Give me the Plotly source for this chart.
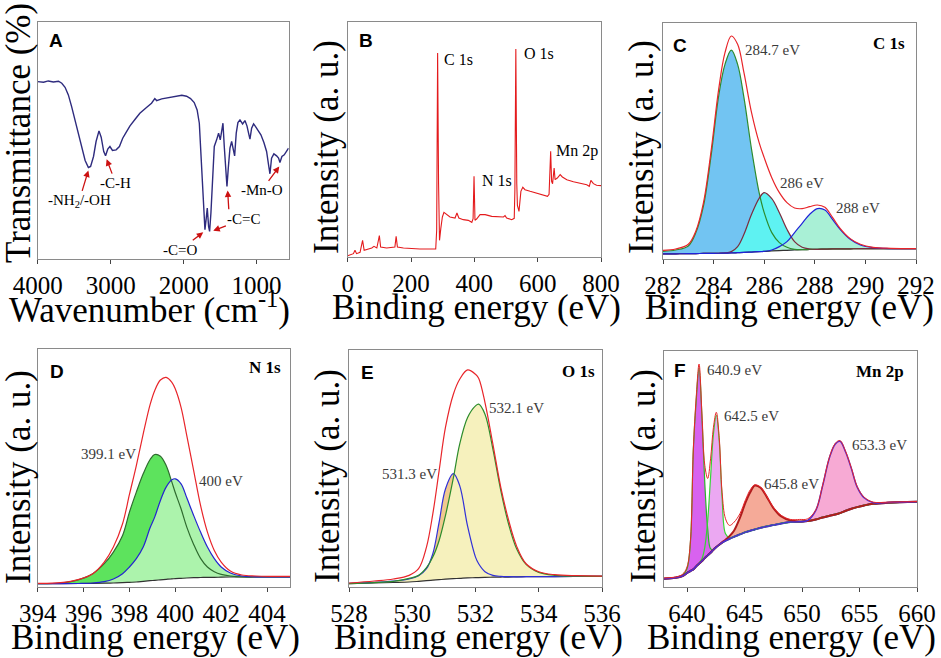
import plotly.graph_objects as go
from plotly.subplots import make_subplots


# Data

# A - FTIR
ftir_wavenumber = [4000, 3920, 3855, 3785, 3715, 3670, 3625, 3580, 3535, 3490,
                   3445, 3395, 3350, 3305, 3275, 3235, 3200, 3160, 3130, 3095,
                   3070, 3040, 3010, 2975, 2925, 2880, 2835, 2790, 2735, 2665,
                   2600, 2505, 2440, 2395, 2370, 2300, 2210, 2120, 2025, 1960,
                   1905, 1855, 1815, 1785, 1765, 1745, 1725, 1708, 1690, 1676,
                   1658, 1644, 1626, 1603, 1580, 1548, 1521, 1498, 1479, 1461,
                   1443, 1425, 1406, 1388, 1365, 1342, 1320, 1301, 1279, 1256,
                   1228, 1192, 1160, 1132, 1110, 1091, 1068, 1041, 1014, 977,
                   941, 900, 863, 836, 817, 795, 763, 726, 699, 680,
                   653, 621, 589, 562]
ftir_transmittance = [53.3, 53.1, 53.5, 53.2, 53.4, 52.8, 51.6, 49.3, 45.8, 41.8,
                      37.3, 33.0, 29.6, 27.5, 27.8, 30.8, 35.3, 38.5, 36.6, 32.3,
                      31.0, 33.0, 33.8, 32.6, 32.8, 33.8, 36.3, 38.0, 40.0, 42.0,
                      43.8, 45.6, 46.8, 48.2, 47.6, 48.1, 48.5, 48.8, 49.2, 48.9,
                      48.2, 47.0, 44.8, 40.8, 32.8, 23.8, 13.8, 8.8, 12.3, 15.3,
                      9.8, 8.3, 13.8, 25.8, 33.8, 35.8, 37.8, 35.8, 38.3, 40.8,
                      33.8, 25.8, 21.8, 27.3, 33.3, 35.3, 32.8, 31.0, 37.8, 41.0,
                      41.8, 40.6, 41.6, 40.0, 37.8, 36.0, 39.3, 40.6, 39.8, 38.3,
                      37.3, 35.0, 32.3, 28.3, 25.6, 30.3, 31.6, 31.0, 30.3, 29.0,
                      30.8, 31.3, 32.3, 33.3]

# B - XPS survey
survey_ev = [0, 7, 18, 23, 28, 39, 47, 52, 65, 76,
             83, 92, 100, 104, 123, 139, 149, 153, 157, 176,
             197, 228, 260, 278, 281, 284, 287, 290, 294, 299,
             304, 313, 323, 339, 345, 351, 365, 381, 392, 396,
             399, 402, 407, 418, 434, 455, 476, 492, 497, 502,
             518, 526, 528, 531, 534, 536, 541, 547, 553, 560,
             576, 597, 618, 631, 636, 638, 641, 644, 647, 652,
             655, 662, 671, 678, 692, 713, 734, 755, 763, 768,
             776, 786, 800]
survey_counts = [0.4, 0.7, 1.0, 2.0, 1.0, 1.4, 5.0, 2.0, 2.4, 2.7,
                 3.2, 2.7, 6.4, 3.0, 2.7, 3.0, 3.0, 6.2, 3.0, 2.7,
                 2.5, 2.4, 2.4, 2.4, 8.0, 61.2, 22.0, 5.0, 8.5, 12.0,
                 13.4, 12.7, 12.0, 11.7, 13.2, 11.7, 11.2, 11.0, 10.4, 11.5,
                 24.2, 11.0, 11.4, 12.7, 12.7, 12.2, 12.0, 12.0, 12.4, 11.7,
                 11.2, 11.6, 20.0, 62.4, 22.0, 15.5, 13.7, 19.7, 20.9, 20.2,
                 19.7, 19.2, 18.7, 18.2, 18.8, 25.0, 31.7, 22.7, 22.0, 26.7,
                 23.2, 23.7, 24.7, 24.0, 23.2, 22.6, 22.2, 21.7, 21.2, 23.0,
                 22.0, 21.5, 21.4]

# C - C 1s
c1s_ev = [282, 282.5, 283, 283.3, 283.6, 283.9, 284.2, 284.45, 284.7, 284.95,
          285.2, 285.5, 285.8, 286, 286.3, 286.6, 286.9, 287.2, 287.5, 287.8,
          288.1, 288.4, 288.7, 289, 289.4, 289.8, 290.3, 291, 292]
c1s_background = [1.6, 1.65, 1.7, 1.72, 1.75, 1.78, 1.82, 1.86, 1.9, 1.98,
                  2.06, 2.18, 2.3, 2.4, 2.5, 2.6, 2.7, 2.8, 2.9, 2.95,
                  3.0, 3.05, 3.1, 3.1, 3.15, 3.2, 3.2, 3.2, 3.2]
c1s_2847 = [2.4, 2.8, 4.0, 8.0, 16.0, 31.0, 49.0, 58.5, 62.8, 58.5,
            48.5, 33.0, 20.0, 14.0, 8.0, 5.0, 3.6, 3.0, 2.9, 2.95,
            3.0, 3.05, 3.1, 3.1, 3.15, 3.2, 3.2, 3.2, 3.2]
c1s_286 = [1.6, 1.65, 1.7, 1.72, 1.75, 1.78, 1.82, 1.9, 2.3, 3.8,
           7.5, 13.5, 18.3, 20.0, 18.2, 14.0, 9.0, 5.3, 3.6, 3.1,
           3.0, 3.05, 3.1, 3.1, 3.15, 3.2, 3.2, 3.2, 3.2]
c1s_288 = [1.6, 1.65, 1.7, 1.72, 1.75, 1.78, 1.82, 1.86, 1.9, 1.98,
           2.06, 2.18, 2.3, 2.4, 2.8, 3.8, 5.3, 8.0, 10.8, 13.5,
           15.2, 14.8, 12.0, 9.0, 6.0, 4.3, 3.5, 3.2, 3.2]
c1s_envelope = [2.7, 3.1, 4.5, 8.5, 17.0, 32.5, 51.0, 62.0, 67.0, 64.5,
                56.0, 44.0, 35.0, 30.5, 24.5, 20.0, 17.0, 15.4, 15.2, 15.8,
                16.3, 15.6, 12.6, 9.3, 6.2, 4.5, 3.6, 3.3, 3.2]

# D - N 1s
n1s_ev = [394, 395, 395.8, 396.4, 396.9, 397.3, 397.7, 398.0, 398.3, 398.6,
          398.9, 399.1, 399.35, 399.6, 399.85, 400.0, 400.25, 400.5, 400.8, 401.1,
          401.4, 401.7, 402.0, 402.4, 402.9, 403.5, 404.2, 405]
n1s_background = [1.0, 1.0, 1.05, 1.1, 1.15, 1.2, 1.3, 1.4, 1.5, 1.7,
                  1.9, 2.0, 2.15, 2.3, 2.45, 2.5, 2.6, 2.7, 2.8, 2.85,
                  2.9, 2.9, 2.95, 3.0, 3.0, 3.0, 3.0, 3.0]
n1s_3991 = [1.0, 1.2, 2.2, 4.0, 7.0, 10.5, 15.5, 22.5, 28.5, 34.0,
            38.3, 39.8, 39.3, 36.5, 31.5, 28.3, 23.5, 18.0, 12.8, 8.6,
            6.0, 4.6, 3.8, 3.3, 3.0, 3.0, 3.0, 3.0]
n1s_400 = [1.0, 1.0, 1.05, 1.2, 1.6, 2.4, 4.0, 6.0, 8.5, 12.0,
           17.8, 21.0, 26.0, 30.0, 32.2, 32.5, 31.0, 26.8, 21.5, 16.5,
           12.0, 8.5, 6.0, 4.2, 3.3, 3.05, 3.0, 3.0]
n1s_envelope = [1.1, 1.3, 2.3, 4.0, 7.5, 12.0, 19.0, 27.8, 36.5, 46.0,
                54.8, 59.0, 62.2, 63.0, 61.5, 59.5, 54.0, 45.5, 35.0, 24.5,
                16.5, 11.0, 7.5, 4.8, 3.6, 3.3, 3.2, 3.2]

# E - O 1s
o1s_ev = [528, 528.8, 529.4, 529.9, 530.2, 530.45, 530.65, 530.85, 531.05, 531.3,
          531.5, 531.75, 532.0, 532.1, 532.3, 532.55, 532.8, 533.05, 533.3, 533.6,
          534.0, 534.5, 535.2, 536]
o1s_background = [1.0, 1.2, 1.35, 1.5, 1.7, 1.9, 2.05, 2.2, 2.35, 2.5,
                  2.6, 2.75, 2.8, 2.85, 2.9, 2.95, 3.0, 3.0, 3.05, 3.1,
                  3.1, 3.15, 3.2, 3.2]
o1s_5313 = [1.1, 1.4, 1.8, 2.4, 3.4, 5.5, 10.0, 19.5, 29.5, 34.1,
            30.5, 18.3, 9.0, 7.0, 4.6, 3.5, 3.2, 3.1, 3.05, 3.1,
            3.1, 3.15, 3.2, 3.2]
o1s_5321 = [1.0, 1.3, 1.7, 2.6, 3.5, 5.8, 9.0, 14.0, 21.5, 32.8,
            43.0, 51.0, 54.5, 55.0, 52.0, 41.5, 29.0, 18.8, 11.5, 6.8,
            4.4, 3.5, 3.25, 3.2]
o1s_envelope = [1.2, 1.8, 2.4, 3.5, 5.5, 12.0, 22.0, 35.0, 48.0, 58.0,
                62.5, 65.3, 64.0, 62.8, 55.5, 43.0, 30.0, 20.0, 12.3, 7.0,
                4.6, 3.7, 3.4, 3.3]

# F - Mn 2p
mn2p_ev = [638, 639, 639.6, 640.0, 640.3, 640.55, 640.8, 641.05, 641.3, 641.55,
           641.8, 642.05, 642.3, 642.55, 642.8, 643.05, 643.35, 643.7, 644.1, 644.6,
           645.1, 645.5, 645.9, 646.4, 646.9, 647.5, 648.2, 649.0, 649.8, 650.5,
           651.2, 651.8, 652.4, 652.9, 653.3, 653.8, 654.3, 654.8, 655.4, 656.2,
           657.5, 660]
mn2p_background = [2.5, 2.8, 3.3, 4.2, 4.8, 5.3, 6.2, 7.0, 7.8, 8.7,
                   9.5, 10.3, 11.2, 12.0, 12.7, 13.3, 13.9, 14.5, 15.1, 15.8,
                   16.5, 16.9, 17.3, 17.8, 18.2, 18.6, 19.1, 19.5, 19.6, 19.8,
                   20.3, 20.9, 21.4, 21.8, 22.2, 22.9, 23.5, 24.0, 24.5, 25.0,
                   25.3, 25.6]
mn2p_6409 = [2.5, 2.8, 3.5, 5.5, 13.5, 41.0, 56.0, 66.0, 51.0, 31.0,
             17.5, 11.5, 11.2, 12.0, 12.7, 13.3, 13.9, 14.5, 15.1, 15.8,
             16.5, 16.9, 17.3, 17.8, 18.2, 18.6, 19.1, 19.5, 19.6, 19.8,
             20.3, 20.9, 21.4, 21.8, 22.2, 22.9, 23.5, 24.0, 24.5, 25.0,
             25.3, 25.6]
mn2p_6425 = [2.5, 2.8, 3.3, 4.2, 4.8, 5.3, 6.2, 7.2, 8.5, 12.0,
             20.0, 33.0, 46.0, 51.6, 44.0, 27.0, 16.0, 14.8, 15.1, 15.8,
             16.5, 16.9, 17.3, 17.8, 18.2, 18.6, 19.1, 19.5, 19.6, 19.8,
             20.3, 20.9, 21.4, 21.8, 22.2, 22.9, 23.5, 24.0, 24.5, 25.0,
             25.3, 25.6]
mn2p_6458 = [2.5, 2.8, 3.3, 4.2, 4.8, 5.3, 6.2, 7.0, 7.8, 8.7,
             9.5, 10.3, 11.2, 12.0, 12.7, 13.4, 14.2, 15.3, 17.0, 20.8,
             25.5, 28.5, 30.5, 29.8, 27.3, 23.8, 21.2, 20.0, 19.7, 19.8,
             20.3, 20.9, 21.4, 21.8, 22.2, 22.9, 23.5, 24.0, 24.5, 25.0,
             25.3, 25.6]
mn2p_6533 = [2.5, 2.8, 3.3, 4.2, 4.8, 5.3, 6.2, 7.0, 7.8, 8.7,
             9.5, 10.3, 11.2, 12.0, 12.7, 13.3, 13.9, 14.5, 15.1, 15.8,
             16.5, 16.9, 17.3, 17.8, 18.2, 18.6, 19.1, 19.5, 19.6, 20.0,
             23.0, 30.5, 39.0, 43.0, 43.8, 40.5, 35.5, 30.0, 26.8, 25.3,
             25.4, 25.6]
mn2p_envelope = [2.7, 3.0, 3.8, 6.0, 14.0, 41.5, 57.0, 67.0, 52.0, 36.5,
                 32.6, 38.5, 48.0, 52.5, 45.0, 28.5, 20.5, 18.5, 19.5, 22.0,
                 26.3, 29.2, 30.7, 30.0, 27.5, 24.0, 21.5, 20.3, 20.3, 20.5,
                 23.2, 30.7, 39.2, 43.2, 44.0, 40.7, 35.7, 30.2, 27.0, 25.5,
                 25.5, 25.7]


# Setup

W, H = 941, 658
SERIF = 'Liberation Serif'
ENV_RED = '#e8252a'

def px_x(p):
    return p / W

def px_y(p):
    return 1 - p / H

fig = make_subplots(rows=2, cols=3)


def add_line(x, y, color, row, col, width=1.2, shape='spline'):
    fig.add_trace(go.Scatter(x=x, y=y, mode='lines', line=dict(color=color, width=width, shape=shape),
                             hoverinfo='skip', showlegend=False), row=row, col=col)


def add_fill(x, base, peak, color, row, col):
    # invisible baseline first, the peak then fills down to it
    fig.add_trace(go.Scatter(x=x, y=base, mode='lines', line=dict(width=0, shape='spline'),
                             hoverinfo='skip', showlegend=False), row=row, col=col)
    fig.add_trace(go.Scatter(x=x, y=peak, mode='lines', line=dict(width=0, shape='spline'),
                             fill='tonexty', fillcolor=color, hoverinfo='skip', showlegend=False),
                  row=row, col=col)


# Graph A

add_line(ftir_wavenumber, ftir_transmittance, '#2e2b7e', 1, 1, width=1.4, shape='linear')

# Graph B

add_line(survey_ev, survey_counts, '#e41a1c', 1, 2, width=1.1, shape='linear')

# Graph C

add_fill(c1s_ev, c1s_background, c1s_2847, '#72c4f2', 1, 3)
add_fill(c1s_ev, c1s_background, c1s_286, '#5ef2f2', 1, 3)
add_fill(c1s_ev, c1s_background, c1s_288, '#a9f0d6', 1, 3)
add_line(c1s_ev, c1s_background, '#333333', 1, 3)
add_line(c1s_ev, c1s_2847, '#2e8b2e', 1, 3)
add_line(c1s_ev, c1s_286, '#7b2d3f', 1, 3)
add_line(c1s_ev, c1s_288, '#1f23d8', 1, 3)
add_line(c1s_ev, c1s_envelope, ENV_RED, 1, 3)

# Graph D

add_fill(n1s_ev, n1s_background, n1s_3991, '#5de35d', 2, 1)
add_fill(n1s_ev, n1s_background, n1s_400, '#acf3ac', 2, 1)
add_line(n1s_ev, n1s_background, '#333333', 2, 1)
add_line(n1s_ev, n1s_3991, '#2f6b2f', 2, 1)
add_line(n1s_ev, n1s_400, '#2424d0', 2, 1)
add_line(n1s_ev, n1s_envelope, ENV_RED, 2, 1)

# Graph E

add_fill(o1s_ev, o1s_background, o1s_5313, '#f0c98e', 2, 2)
add_fill(o1s_ev, o1s_background, o1s_5321, '#f6f1bd', 2, 2)
add_line(o1s_ev, o1s_background, '#333333', 2, 2)
add_line(o1s_ev, o1s_5313, '#3030d8', 2, 2)
add_line(o1s_ev, o1s_5321, '#2c8c2c', 2, 2)
add_line(o1s_ev, o1s_envelope, ENV_RED, 2, 2)

# Graph F

add_fill(mn2p_ev, mn2p_background, mn2p_6425, '#eba8f2', 2, 3)
add_fill(mn2p_ev, mn2p_background, mn2p_6409, '#d862ef', 2, 3)
add_fill(mn2p_ev, mn2p_background, mn2p_6458, '#f5aa98', 2, 3)
add_fill(mn2p_ev, mn2p_background, mn2p_6533, '#f7aad4', 2, 3)
add_line(mn2p_ev, mn2p_background, '#1f2a80', 2, 3, width=2)
add_line(mn2p_ev, mn2p_background, '#55dd55', 2, 3, width=1)
add_line(mn2p_ev, mn2p_6409, '#2bb52b', 2, 3)
add_line(mn2p_ev, mn2p_6425, '#36d636', 2, 3)
add_line(mn2p_ev, mn2p_6458, '#b01c1c', 2, 3, width=2)
add_line(mn2p_ev, mn2p_6533, '#4c2cd4', 2, 3, width=1.5)
add_line(mn2p_ev, mn2p_envelope, ENV_RED, 2, 3, width=1)


# Axes

panels = {
    # axis suffix: (x px range, y px range, x range, y max, dtick)
    '':  ((37.7, 288.7), (21.7, 259.0), [4000, 560], 71.3, 1000),
    '2': ((347.7, 601.0), (22.0, 257.0), [0, 800], 70.5, 200),
    '3': ((663.0, 916.0), (22.7, 259.3), [282, 292], 71.0, 2),
    '4': ((37.7, 290.0), (348.7, 587.0), [394, 405], 71.6, 2),
    '5': ((349.0, 602.0), (350.0, 587.0), [528, 536], 71.3, 2),
    '6': ((664.0, 917.0), (350.7, 587.0), [638, 660], 71.0, 5),
}

fig.update_xaxes(showline=True, linecolor='#8a8a8a', linewidth=1.2, mirror=True, automargin=False,
                 ticks='outside', ticklen=4, tickcolor='#444444', showgrid=False, zeroline=False,
                 tickfont=dict(family=SERIF, size=25, color='black'))
fig.update_yaxes(showline=True, linecolor='#8a8a8a', linewidth=1.2, mirror=True, automargin=False,
                 ticks='', showticklabels=False, showgrid=False, zeroline=False)

axes = {}
for k, (xp, yp, xr, ymax, dt) in panels.items():
    axes['xaxis' + k] = dict(domain=[px_x(xp[0]), px_x(xp[1])], range=xr, dtick=dt, tick0=0)
    axes['yaxis' + k] = dict(domain=[px_y(yp[1]), px_y(yp[0])], range=[0, ymax])
fig.update_layout(**axes)


# Text

annotations = []

def paper_text(text, x, y, size, angle=0, family=SERIF, color='black'):
    annotations.append(dict(text=text, x=px_x(x), y=px_y(y), xref='paper', yref='paper',
                            xanchor='center', yanchor='middle', showarrow=False, textangle=angle,
                            font=dict(family=family, size=size, color=color)))

def data_text(text, x, y, ax, size=15, anchor='left', bold=False, color='#3a3a3a'):
    if bold:
        text = '<b>' + text + '</b>'
    annotations.append(dict(text=text, x=x, y=y, xref='x' + ax, yref='y' + ax,
                            xanchor=anchor, yanchor='middle', showarrow=False,
                            font=dict(family=SERIF, size=size, color=color)))

def arrow_text(text, tx, ty, hx, hy):
    annotations.append(dict(text=text, x=hx, y=hy, ax=tx, ay=ty, xref='x', yref='y', axref='x', ayref='y',
                            showarrow=True, arrowhead=2, arrowsize=1, arrowwidth=1.3, arrowcolor='#cc1111',
                            standoff=0, font=dict(family=SERIF, size=15, color='black')))

# axis titles
paper_text('Wavenumber (cm<sup>-1</sup>)', 149, 307, 35)
paper_text('Binding energy (eV)', 476, 307, 35)
paper_text('Binding energy (eV)', 789, 307, 35)
paper_text('Binding energy (eV)', 155, 637, 35)
paper_text('Binding energy (eV)', 478, 637, 35)
paper_text('Binding energy (eV)', 791, 637, 35)
paper_text('Transmittance (%)', 18, 133, 35, angle=-90)
paper_text('Intensity (a. u.)', 327, 147, 35, angle=-90)
paper_text('Intensity (a. u.)', 642, 147, 35, angle=-90)
paper_text('Intensity (a. u.)', 18, 477, 35, angle=-90)
paper_text('Intensity (a. u.)', 327, 476, 35, angle=-90)
paper_text('Intensity (a. u.)', 643, 476, 35, angle=-90)

# panel letters
for letter, x, y in [('A', 56, 40), ('B', 366, 40), ('C', 680, 45),
                     ('D', 57, 371), ('E', 367, 372), ('F', 680, 370)]:
    paper_text('<b>' + letter + '</b>', x, y, 19, family='Liberation Sans')

# A: FTIR assignments
arrow_text('-NH<sub>2</sub>/-OH', 3434, 17.3, 3306, 26.6)
arrow_text('-C-H', 2932, 22.8, 3055, 30.0)
arrow_text('-C=O', 2050, 2.8, 1731, 8.0)
arrow_text('-C=C', 1174, 12.0, 1594, 8.5)
arrow_text('', 1380, 14.5, 1397, 20.6)
arrow_text('-Mn-O', 932, 20.6, 689, 27.8)

# B: survey peaks
data_text('C 1s', 297, 59.4, '2', size=16, color='black')
data_text('O 1s', 549, 61.2, '2', size=16, color='black')
data_text('N 1s', 418, 22.9, '2', size=16, color='black')
data_text('Mn 2p', 653, 31.7, '2', size=16, color='black')

# C
data_text('284.7 eV', 285.17, 62.8, '3')
data_text('286 eV', 286.55, 22.8, '3')
data_text('288 eV', 288.77, 15.3, '3')
data_text('C 1s', 291.66, 64.8, '3', size=17, anchor='right', bold=True, color='black')

# D
data_text('399.1 eV', 397.1, 40.0, '4', anchor='center')
data_text('400 eV', 402.0, 31.8, '4', anchor='center')
data_text('N 1s', 404.71, 66.0, '4', size=17, anchor='right', bold=True, color='black')

# E
data_text('531.3 eV', 529.92, 34.1, '5', anchor='center')
data_text('532.1 eV', 533.29, 53.8, '5', anchor='center')
data_text('O 1s', 535.84, 64.8, '5', size=17, anchor='right', bold=True, color='black')

# F
data_text('640.9 eV', 641.57, 65.3, '6')
data_text('642.5 eV', 643.02, 51.3, '6')
data_text('645.8 eV', 646.5, 30.8, '6')
data_text('653.3 eV', 654.14, 42.8, '6')
data_text('Mn 2p', 659.07, 64.8, '6', size=17, anchor='right', bold=True, color='black')


fig.update_layout(width=W, height=H, margin=dict(l=0, r=0, t=0, b=0),
                  paper_bgcolor='white', plot_bgcolor='white', showlegend=False,
                  annotations=annotations)

# the page body has a default 8px margin, drop it so the figure sits at the corner
fig.write_html("out.html", config={'displayModeBar': False},
               post_script="document.body.style.margin = '0';")
